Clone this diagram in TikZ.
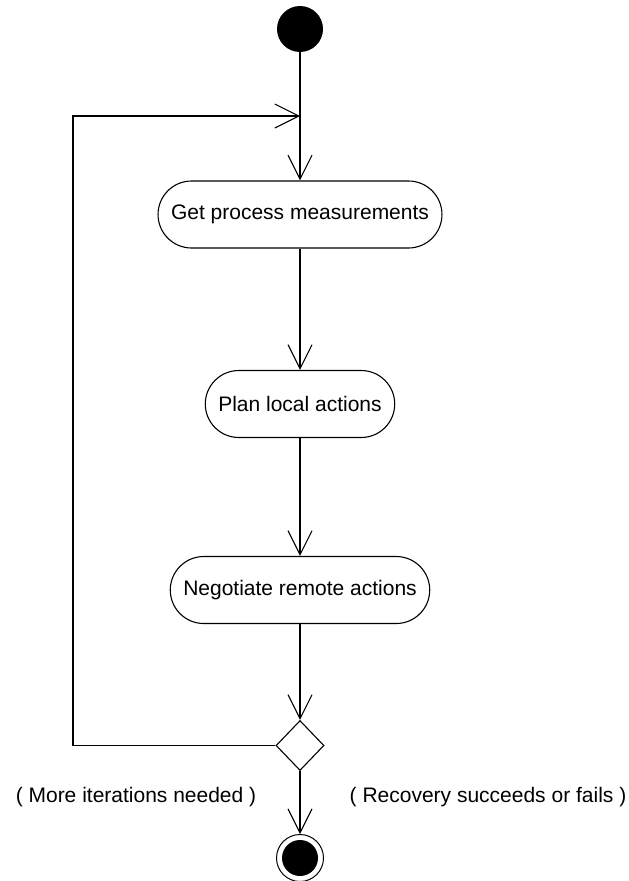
\documentclass[tikz,border=0pt]{standalone}
\usepackage{fontspec}
\setmainfont{Liberation Sans}
\usetikzlibrary{arrows.meta,shapes.geometric}
\begin{document}
\begin{tikzpicture}[x=1pt,y=-1pt,
  txt/.style={font=\fontsize{21}{25}\selectfont},
  flow/.style={draw=black, line width=1.1pt,
    -{Straight Barb[length=24pt,width=24pt,line width=1.1pt]}},
  action/.style={txt, draw=black, line width=1.1pt, fill=white,
    rectangle, rounded corners=33.5pt, minimum height=67pt,
    inner xsep=13pt, inner ysep=0pt},
  startnode/.style={circle, fill=black, minimum size=46pt, inner sep=0pt},
  endnode/.style={circle, draw=black, line width=1pt, fill=white,
    minimum size=47pt, inner sep=0pt},
  decision/.style={diamond, draw=black, line width=1.1pt, fill=white,
    minimum width=48pt, minimum height=50pt, inner sep=0pt}
]
\useasboundingbox (0,0) rectangle (629,881);

% nodes
\node[startnode] (start) at (300,29) {};
\node[action] (get) at (300,214.5) {Get process measurements};
\node[action] (plan) at (300,404) {Plan local actions};
\node[action] (neg) at (300,590) {Negotiate remote actions};
\node[decision] (dec) at (300,745.5) {};
\node[endnode] (stop) at (300,858) {};
\fill[black] (stop.center) circle (18pt);

% loop-back path
\coordinate (join) at (300,116);
\coordinate (corner) at (73,745.5);

% connectors
\draw[flow] (start) -- (get);
\draw[flow] (get) -- (plan);
\draw[flow] (plan) -- (neg);
\draw[flow] (neg) -- (dec);
\draw[flow] (dec) -- (stop);
\draw[flow] (dec.west) -- (corner) |- (join);

% guard labels
\node[txt] (more) at (136,797) {( More iterations needed )};
\node[txt] (done) at (488,797) {( Recovery succeeds or fails )};
\end{tikzpicture}
\end{document}
